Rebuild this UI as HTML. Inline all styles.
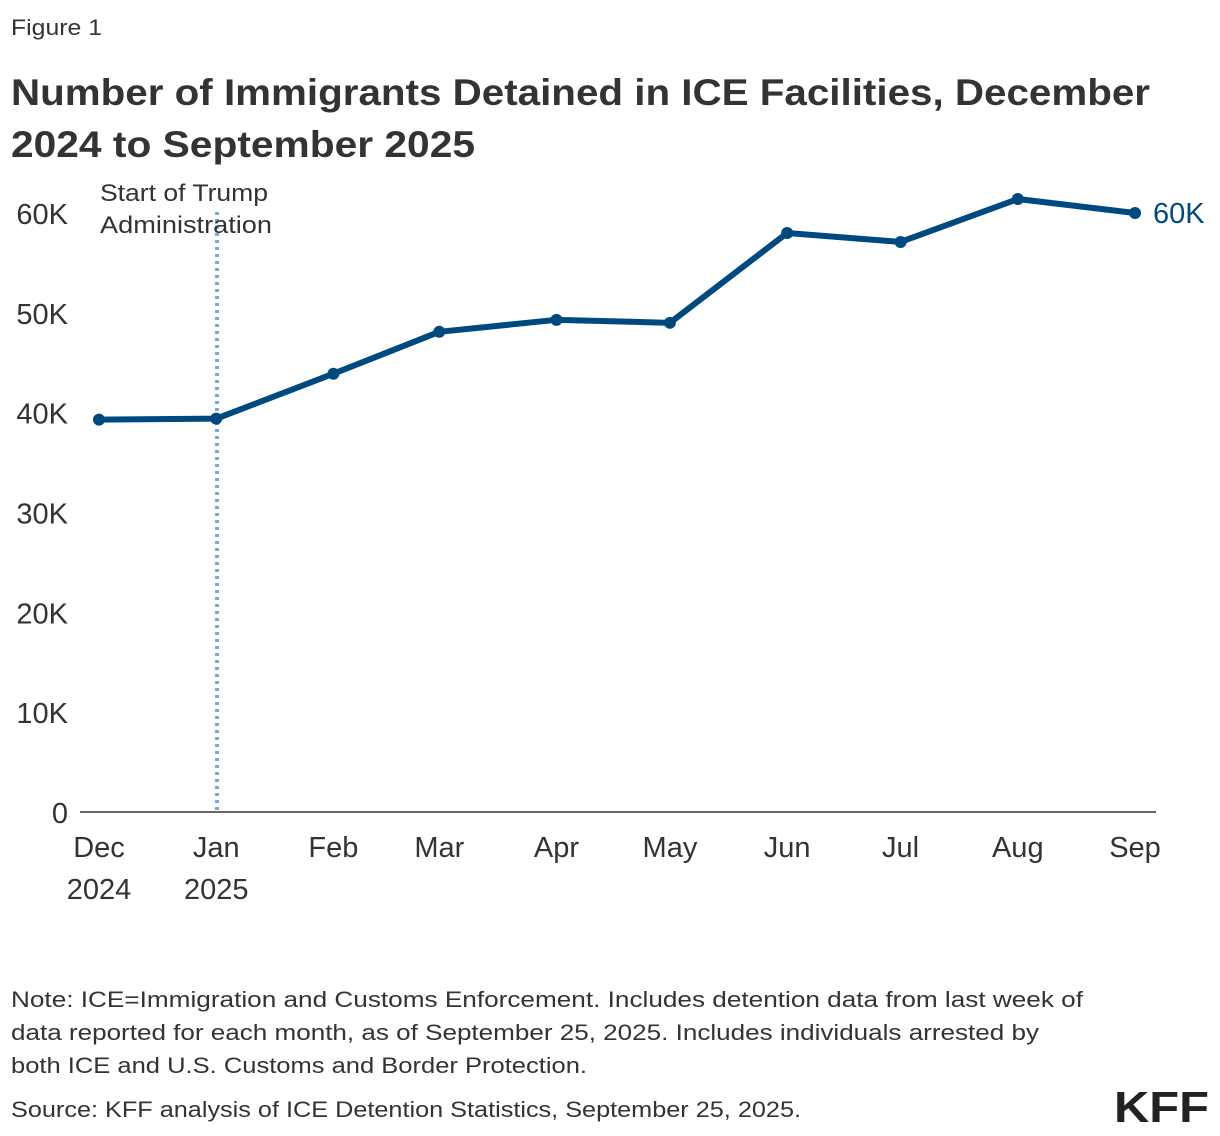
<!DOCTYPE html>
<html><head><meta charset="utf-8"><style>
html,body{margin:0;padding:0;background:#fff;}
svg{display:block;font-family:"Liberation Sans",sans-serif;}
</style></head><body>
<svg width="1220" height="1136" viewBox="0 0 1220 1136">
<text x="11" y="35" font-size="22" fill="#333" textLength="91" lengthAdjust="spacingAndGlyphs">Figure 1</text>
<text x="11" y="105" font-size="37" font-weight="bold" fill="#333" textLength="1139" lengthAdjust="spacingAndGlyphs">Number of Immigrants Detained in ICE Facilities, December</text>
<text x="11" y="157" font-size="37" font-weight="bold" fill="#333" textLength="464" lengthAdjust="spacingAndGlyphs">2024 to September 2025</text>
<g id="yaxis"></g>
<g id="xaxis"></g>
<line x1="80" y1="812" x2="1156" y2="812" stroke="#333" stroke-width="1.5"/>
<line x1="217" y1="212" x2="217" y2="812" stroke="#7fa7cf" stroke-width="4" stroke-dasharray="3,4"/>
<text x="100" y="201" font-size="24" fill="#333" textLength="168" lengthAdjust="spacingAndGlyphs">Start of Trump</text>
<text x="100" y="233" font-size="24" fill="#333" textLength="172" lengthAdjust="spacingAndGlyphs">Administration</text>
<g id="series"></g>
<text x="11" y="1007" font-size="22.5" fill="#333" textLength="1072" lengthAdjust="spacingAndGlyphs">Note: ICE=Immigration and Customs Enforcement. Includes detention data from last week of</text>
<text x="11" y="1040" font-size="22.5" fill="#333" textLength="1028" lengthAdjust="spacingAndGlyphs">data reported for each month, as of September 25, 2025. Includes individuals arrested by</text>
<text x="11" y="1073" font-size="22.5" fill="#333" textLength="576" lengthAdjust="spacingAndGlyphs">both ICE and U.S. Customs and Border Protection.</text>
<text x="11" y="1117" font-size="22.5" fill="#333" textLength="790" lengthAdjust="spacingAndGlyphs">Source: KFF analysis of ICE Detention Statistics, September 25, 2025.</text>
<text x="1114" y="1122" font-size="44" font-weight="bold" fill="#222" textLength="95" lengthAdjust="spacingAndGlyphs">KFF</text>
</svg>
<script>
const categories=["Dec","Jan","Feb","Mar","Apr","May","Jun","Jul","Aug","Sep"];
const yearLabels=["2024","2025","","","","","","","",""];
const dayOffsets=[0,31,62,90,121,151,182,212,243,274];
const values=[39300,39400,43900,48100,49300,49000,58000,57100,61400,60000];
const yTicks=[0,10000,20000,30000,40000,50000,60000];
const yTickLabels=["0","10K","20K","30K","40K","50K","60K"];
const endLabel="60K";
const NS="http://www.w3.org/2000/svg";
function xScale(d){return 99+d*(1135-99)/274;}
function yScale(v){return 812-v*(812-213)/60000;}
function mk(tag,attrs,parent,txt){const e=document.createElementNS(NS,tag);for(const k in attrs)e.setAttribute(k,attrs[k]);if(txt!==undefined)e.textContent=txt;parent.appendChild(e);return e;}
const ya=document.getElementById('yaxis');
yTicks.forEach((t,i)=>{const e=mk('text',{x:68,y:yScale(t)+11,'font-size':29,fill:'#333','text-anchor':'end'},ya,yTickLabels[i]);

});
const xa=document.getElementById('xaxis');
categories.forEach((c,i)=>{const e=mk('text',{x:xScale(dayOffsets[i]),y:857,'font-size':29,fill:'#333','text-anchor':'middle'},xa,c);


if(yearLabels[i]){const y=mk('text',{x:xScale(dayOffsets[i]),y:899,'font-size':29,fill:'#333','text-anchor':'middle'},xa,yearLabels[i]);

}});
const s=document.getElementById('series');
const p=mk('path',{d:values.map((v,i)=>(i?'L':'M')+xScale(dayOffsets[i])+','+yScale(v)).join(' '),fill:'none',stroke:'#00497f','stroke-width':6,'stroke-linejoin':'round'},s);


values.forEach((v,i)=>{const c=mk('circle',{cx:xScale(dayOffsets[i]),cy:yScale(v),r:6,fill:'#00497f'},s);

});
const n=values.length-1;
const lbl=mk('text',{x:xScale(dayOffsets[n])+18,y:yScale(values[n])+10,'font-size':29,fill:'#00497f'},s,endLabel);


</script>
</body></html>
